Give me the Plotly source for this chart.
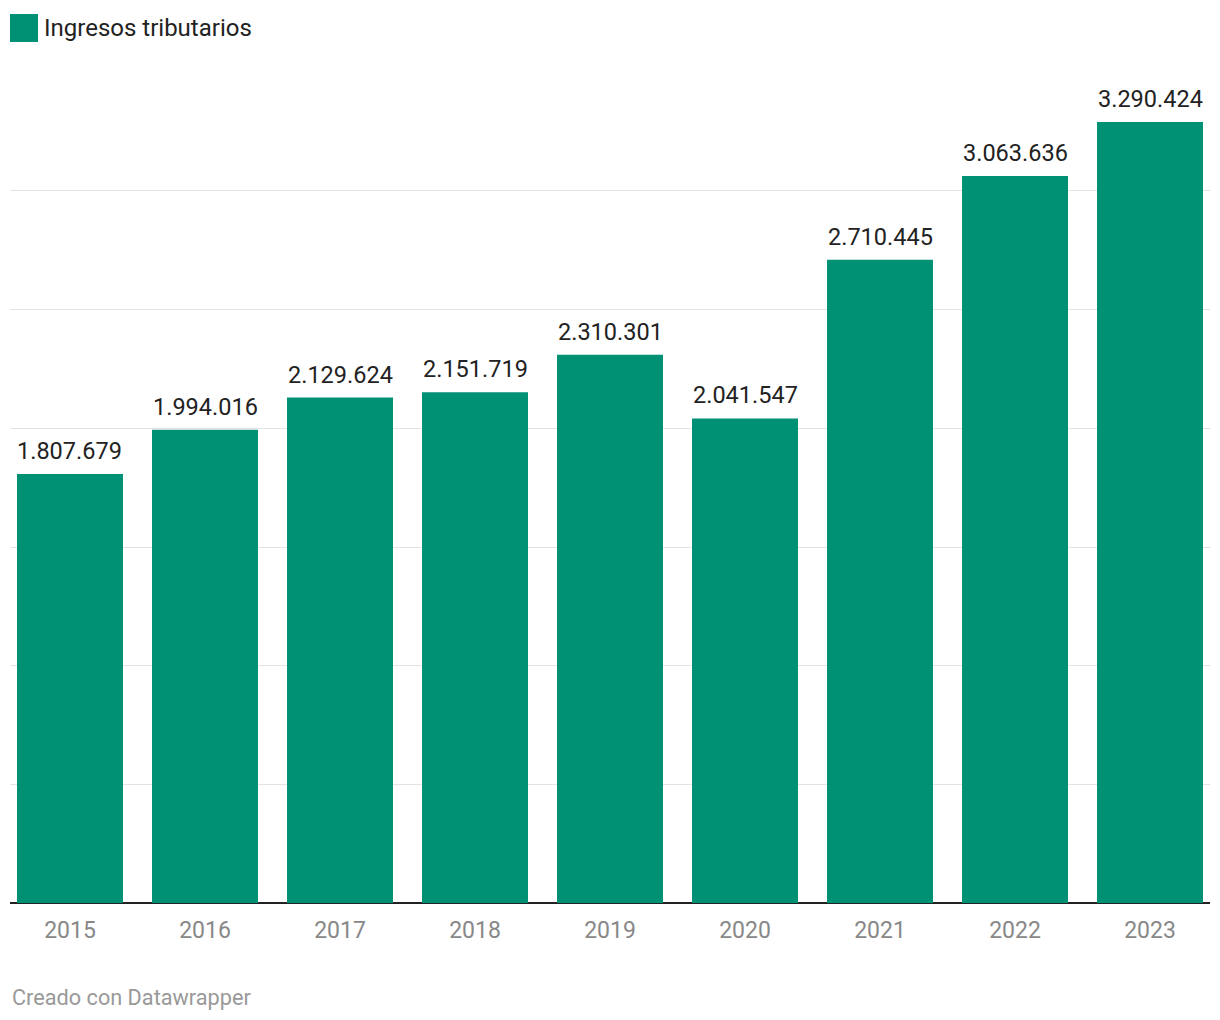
import plotly.graph_objects as go

years = ["2015", "2016", "2017", "2018", "2019", "2020", "2021", "2022", "2023"]
values = [1807679, 1994016, 2129624, 2151719, 2310301, 2041547, 2710445, 3063636, 3290424]
series_name = "Ingresos tributarios"
footer = "Creado con Datawrapper"

BAR = "#009175"
FONT = "Roboto"

W, H = 1220, 1020
ml, mr, mt, mb = 10, 10, 100, 117
ph = H - mt - mb
pw = W - ml - mr

def fmt(v):
    return f"{v:,}".replace(",", ".")

fig = go.Figure()
fig.add_trace(go.Bar(
    x=years, y=values, marker_color=BAR, marker_line_width=0,
    name=series_name, showlegend=False, hoverinfo="skip",
))

annotations = []
for i, v in enumerate(values):
    annotations.append(dict(
        x=i, y=v, xref="x", yref="y", text=fmt(v), showarrow=False,
        yanchor="bottom", yshift=7, font=dict(family=FONT, size=23.5, color="#222222"),
    ))

# legend
annotations.append(dict(
    x=32 / pw, y=(mt + ph - 28) / ph, xref="paper", yref="paper",
    text=series_name, showarrow=False, xanchor="left", yanchor="middle",
    font=dict(family=FONT, size=24, color="#222222"),
))
# footer
annotations.append(dict(
    x=0, y=-(997 - (mt + ph)) / ph, xref="paper", yref="paper",
    text=footer, showarrow=False, xanchor="left", yanchor="middle",
    font=dict(family=FONT, size=21.7, color="#999999"),
))

shapes = [dict(
    type="rect", xref="paper", yref="paper",
    x0=0, x1=28 / pw, y0=(mt + ph - 42) / ph, y1=(mt + ph - 14) / ph,
    fillcolor=BAR, line_width=0,
)]

fig.update_layout(
    width=W, height=H,
    margin=dict(l=ml, r=mr, t=mt, b=mb, pad=0),
    plot_bgcolor="white", paper_bgcolor="white",
    bargap=0.215,
    font=dict(family=FONT),
    annotations=annotations, shapes=shapes,
    xaxis=dict(
        type="category", range=[-0.4444, 8.4444], showgrid=False,
        tickfont=dict(family=FONT, size=23, color="#888888"),
        ticks="", ticklabelstandoff=11, showline=False, fixedrange=True,
    ),
    yaxis=dict(
        range=[0, 3383400], dtick=500000, showticklabels=False,
        showgrid=True, gridcolor="#e3e3e3", gridwidth=1,
        zeroline=True, zerolinecolor="#222222", zerolinewidth=2,
        ticks="", fixedrange=True,
    ),
)

fig.write_html("out.html", post_script="document.body.style.margin='0';",
               config={"displayModeBar": False})
